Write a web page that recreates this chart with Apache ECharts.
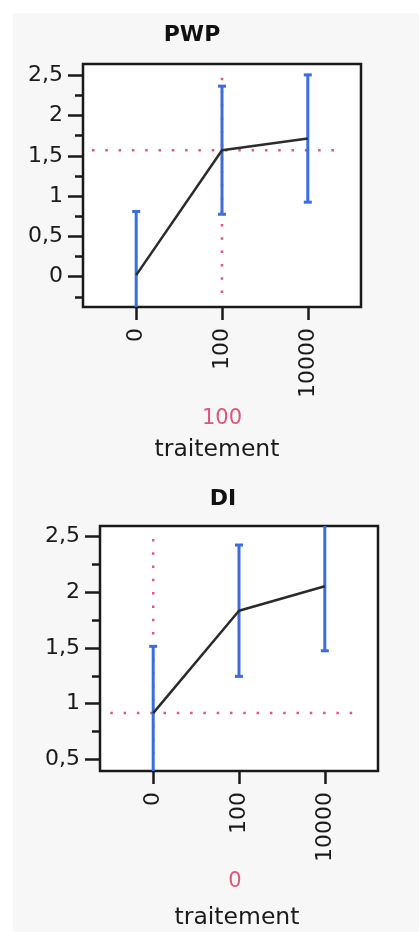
<!DOCTYPE html>
<html><head><meta charset="utf-8">
<script src="https://cdn.jsdelivr.net/npm/echarts@6/dist/echarts.min.js"></script>
<style>html,body{margin:0;padding:0;background:#fff}#c{width:419px;height:932px}</style>
</head><body><div id="c"></div>
<script>
// ---- data ----
const categories = ['0', '100', '10000'];
const pwpMean = [0.02, 1.57, 1.715];
const pwpErr = [0.79, 0.795, 0.79];
const diMean = [0.915, 1.835, 2.055];
const diErr = [0.6, 0.59, 0.58];
const pwpTicks = [0, 0.5, 1, 1.5, 2, 2.5];
const pwpMinor = [-0.25, 0.25, 0.75, 1.25, 1.75, 2.25];
const diTicks = [0.5, 1, 1.5, 2, 2.5];
const diMinor = [0.75, 1.25, 1.75, 2.25];
const pwpSelectedCat = '100';
const pwpSelectedValue = 1.57;
const diSelectedCat = '0';
const diSelectedValue = 0.915;

// ---- style ----
const FONT = 'DejaVu Sans';
const BLUE = '#3b6ce0';
const RED = '#e3557a';
const INK = '#1a1a1a';

const chart = echarts.init(document.getElementById('c'));

function errData(means, errs) { return means.map((m, i) => [i, m - errs[i], m + errs[i]]); }
function errRender(params, api) {
  const i = api.value(0);
  const lo = api.coord([i, api.value(1)]);
  const hi = api.coord([i, api.value(2)]);
  const st = { stroke: BLUE, lineWidth: 3 };
  return {
    type: 'group', children: [
      { type: 'line', shape: { x1: lo[0], y1: lo[1], x2: hi[0], y2: hi[1] }, style: st },
      { type: 'line', shape: { x1: lo[0] - 4, y1: lo[1], x2: lo[0] + 4, y2: lo[1] }, style: st },
      { type: 'line', shape: { x1: hi[0] - 4, y1: hi[1], x2: hi[0] + 4, y2: hi[1] }, style: st }
    ]
  };
}
const fmt = v => String(v).replace('.', ',');

function xAxisDef(gi) {
  return {
    type: 'value', gridIndex: gi, min: -0.62, max: 2.62,
    axisLine: { show: false, onZero: false }, splitLine: { show: false },
    axisTick: { show: true, length: 13, customValues: [0, 1, 2], lineStyle: { color: INK, width: 2.5 } },
    axisLabel: { customValues: [0, 1, 2], formatter: v => categories[Math.round(v)], rotate: 90, margin: 21,
      fontFamily: FONT, fontSize: 22, color: INK }
  };
}
function yMain(gi, min, max, ticks) {
  return {
    type: 'value', gridIndex: gi, min: min, max: max,
    axisLine: { show: false, onZero: false }, splitLine: { show: false },
    axisTick: { show: true, length: 15, customValues: ticks, lineStyle: { color: INK, width: 2.5 } },
    axisLabel: { customValues: ticks, formatter: fmt, margin: 20, fontFamily: FONT, fontSize: 22, color: INK }
  };
}
function yMinor(gi, min, max, ticks) {
  return {
    type: 'value', gridIndex: gi, min: min, max: max, position: 'left',
    axisLine: { show: false, onZero: false }, splitLine: { show: false },
    axisTick: { show: true, length: 8, customValues: ticks, lineStyle: { color: INK, width: 2.5 } },
    axisLabel: { show: false }
  };
}
function refLine(xi, yi, data) {
  return { type: 'line', xAxisIndex: xi, yAxisIndex: yi, data: data, symbol: 'none', silent: true, z: 1,
    lineStyle: { color: RED, width: 2.5, type: [2.5, 10.8] } };
}

const pwpCat = categories.indexOf(pwpSelectedCat);
const diCat = categories.indexOf(diSelectedCat);

chart.setOption({
  animation: false,
  backgroundColor: '#fff',
  graphic: [
    { type: 'rect', shape: { x: 13, y: 13, width: 406, height: 919 }, style: { fill: '#f7f7f7' }, z: -10 },
    { type: 'text', x: 192, y: 35, style: { text: 'PWP', font: 'bold 22px "DejaVu Sans"', fill: '#111', align: 'center', verticalAlign: 'middle' } },
    { type: 'text', x: 222, y: 419, style: { text: pwpSelectedCat, font: '21px "DejaVu Sans"', fill: RED, align: 'center', verticalAlign: 'middle' } },
    { type: 'text', x: 217, y: 450, style: { text: 'traitement', font: '23.5px "DejaVu Sans"', fill: INK, align: 'center', verticalAlign: 'middle' } },
    { type: 'text', x: 223, y: 499, style: { text: 'DI', font: 'bold 22px "DejaVu Sans"', fill: '#111', align: 'center', verticalAlign: 'middle' } },
    { type: 'text', x: 235, y: 882, style: { text: diSelectedCat, font: '21px "DejaVu Sans"', fill: RED, align: 'center', verticalAlign: 'middle' } },
    { type: 'text', x: 237, y: 918, style: { text: 'traitement', font: '23.5px "DejaVu Sans"', fill: INK, align: 'center', verticalAlign: 'middle' } }
  ],
  grid: [
    { left: 83, top: 64, width: 278, height: 243, show: true, backgroundColor: '#fff', borderColor: INK, borderWidth: 2.5 },
    { left: 100, top: 526, width: 278, height: 245, show: true, backgroundColor: '#fff', borderColor: INK, borderWidth: 2.5 }
  ],
  xAxis: [xAxisDef(0), xAxisDef(1)],
  yAxis: [
    yMain(0, -0.376, 2.64, pwpTicks), yMinor(0, -0.376, 2.64, pwpMinor),
    yMain(1, 0.395, 2.596, diTicks), yMinor(1, 0.395, 2.596, diMinor)
  ],
  series: [
    refLine(0, 0, [[-0.515, pwpSelectedValue], [2.40, pwpSelectedValue]]),
    refLine(0, 0, [[pwpCat, 2.47], [pwpCat, -0.25]]),
    { type: 'custom', xAxisIndex: 0, yAxisIndex: 0, data: errData(pwpMean, pwpErr), renderItem: errRender, clip: true, z: 2 },
    { type: 'line', xAxisIndex: 0, yAxisIndex: 0, data: pwpMean.map((m, i) => [i, m]), symbol: 'none', z: 3,
      lineStyle: { color: '#2b2b2b', width: 2.5 } },
    refLine(1, 2, [[-0.5, diSelectedValue], [2.37, diSelectedValue]]),
    refLine(1, 2, [[diCat, 2.48], [diCat, 0.45]]),
    { type: 'custom', xAxisIndex: 1, yAxisIndex: 2, data: errData(diMean, diErr), renderItem: errRender, clip: true, z: 2 },
    { type: 'line', xAxisIndex: 1, yAxisIndex: 2, data: diMean.map((m, i) => [i, m]), symbol: 'none', z: 3,
      lineStyle: { color: '#2b2b2b', width: 2.5 } }
  ]
});
</script>
</body></html>
